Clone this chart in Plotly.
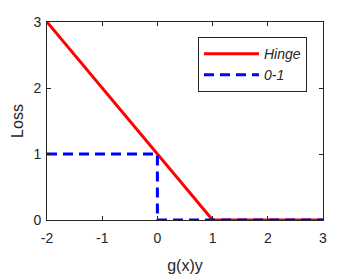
import plotly.graph_objects as go

hinge_x = [-2, 1, 3]
hinge_y = [3, 0, 0]
zo_x = [-2, 0, 0, 3]
zo_y = [1, 1, 0, 0]
x_ticks = [-2, -1, 0, 1, 2, 3]
x_labels = ["-2", "-1", "0", "1", "2", "3"]
y_ticks = [0, 1, 2, 3]
y_labels = ["0", "1", "2", "3"]

fig = go.Figure()
fig.add_trace(go.Scatter(x=hinge_x, y=hinge_y, mode="lines", name="Hinge",
                         line=dict(color="#FF0000", width=3)))
fig.add_trace(go.Scatter(x=zo_x, y=zo_y, mode="lines", name="0-1",
                         line=dict(color="#0000FF", width=3, dash="10px,6px")))

axis_common = dict(showline=True, mirror="ticks", linecolor="#262626", linewidth=1,
                   ticks="inside", ticklen=4, tickcolor="#262626",
                   showgrid=False, zeroline=False, automargin=False,
                   tickfont=dict(family="Liberation Sans, Arial", size=14, color="#262626"))

fig.update_layout(
    width=349, height=267,
    margin=dict(l=39, r=34, t=14, b=55),
    paper_bgcolor="white", plot_bgcolor="white",
    xaxis=dict(range=[-2, 3], tickvals=x_ticks, ticktext=x_labels, ticklabelstandoff=5,
               title=dict(text="g(x)y", font=dict(family="Liberation Sans, Arial", size=16, color="#262626"), standoff=15),
               **axis_common),
    yaxis=dict(range=[0, 3], tickvals=y_ticks, ticktext=y_labels, ticklabelstandoff=2,
               title=dict(text="Loss", font=dict(family="Liberation Sans, Arial", size=16, color="#262626"), standoff=5),
               **axis_common),
    legend=dict(x=0.547, y=0.924, xanchor="left", yanchor="top",
                bordercolor="#262626", borderwidth=1, bgcolor="white",
                itemwidth=55,
                font=dict(family="Liberation Sans, Arial", size=14, color="#262626", style="italic"),
                tracegroupgap=0),
    showlegend=True,
)

fig.write_html("out.html")
